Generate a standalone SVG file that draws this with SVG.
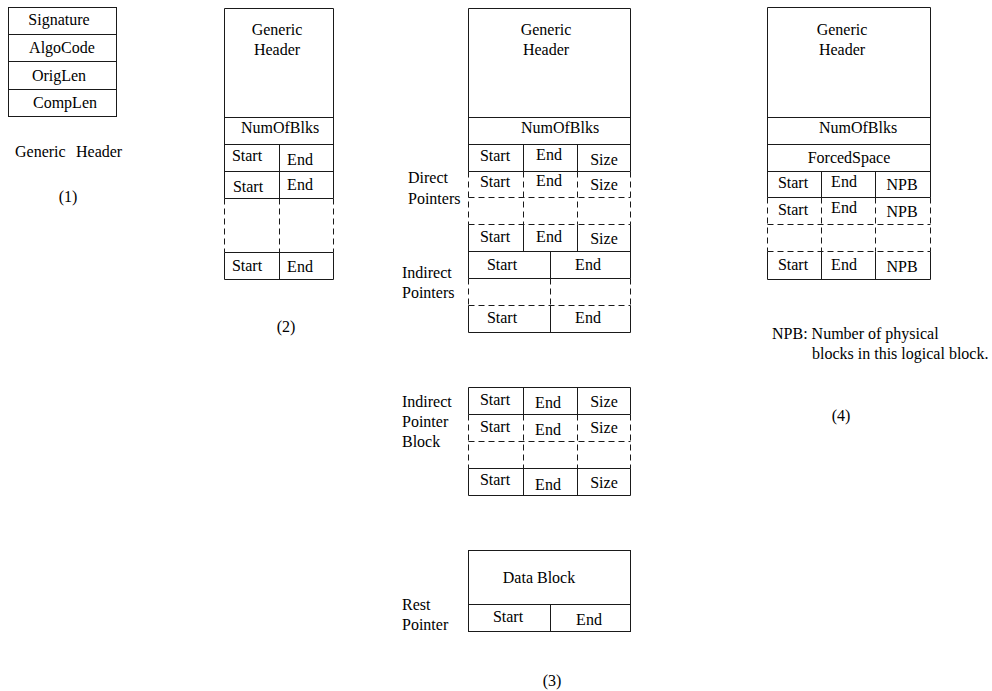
<svg xmlns="http://www.w3.org/2000/svg" width="992" height="691" viewBox="0 0 992 691">
<style>
text{font-family:"Liberation Serif","Times New Roman",serif;font-size:16px;fill:#000}
.c{text-anchor:middle}
.s{fill:none;stroke:#1a1a1a;stroke-width:1}
.d{fill:none;stroke:#1a1a1a;stroke-width:1;stroke-dasharray:6,4}
</style>
<rect width="992" height="691" fill="#fff"/>
<g id="connectors"/>
<g id="generic-header">
<rect class="s" x="8.5" y="7.5" width="108" height="109"/>
<path class="s" d="M8.5 34.5H116.5M8.5 61.5H116.5M8.5 89.5H116.5"/>
<text class="c" x="59" y="25">Signature</text>
<text class="c" x="62" y="53">AlgoCode</text>
<text class="c" x="59" y="81">OrigLen</text>
<text class="c" x="65" y="108">CompLen</text>
<text x="15" y="157">Generic</text>
<text x="76" y="157">Header</text>
<text class="c" x="68" y="202">(1)</text>
</g>
<g id="layout-2">
<path class="s" d="M224.5 198.5V8.5H333.5V198.5M224.5 117.5H333.5M224.5 144.5H333.5M224.5 171.5H333.5M224.5 198.5H333.5M279.5 144.5V198.5M224.5 252.5H333.5V279.5H224.5ZM279.5 252.5V279.5"/>
<path class="d" d="M224.5 198.5V252.5M333.5 198.5V252.5M279.5 198.5V252.5"/>
<text class="c" x="277" y="35">Generic</text>
<text class="c" x="277" y="55">Header</text>
<text class="c" x="280" y="133">NumOfBlks</text>
<text class="c" x="247" y="161">Start</text>
<text class="c" x="300" y="165">End</text>
<text class="c" x="248" y="192">Start</text>
<text class="c" x="300" y="190">End</text>
<text class="c" x="247" y="271">Start</text>
<text class="c" x="300" y="272">End</text>
<text class="c" x="286" y="332">(2)</text>
</g>
<g id="layout-3-main">
<path class="s" d="M468.5 171.5V8.5H630.5V171.5M468.5 117.5H630.5M468.5 144.5H630.5M468.5 171.5H630.5M523.5 144.5V171.5M577.5 144.5V171.5"/>
<path class="d" d="M468.5 171.5V224.5M630.5 171.5V224.5M523.5 171.5V224.5M577.5 171.5V224.5M468.5 197.5H630.5M468.5 224.5H630.5"/>
<path class="s" d="M468.5 224.5V278.5M630.5 224.5V278.5M523.5 224.5V251.5M577.5 224.5V251.5M468.5 251.5H630.5M468.5 278.5H630.5M550.5 251.5V278.5"/>
<path class="d" d="M468.5 278.5V305.5M630.5 278.5V305.5M550.5 278.5V305.5M468.5 305.5H630.5"/>
<path class="s" d="M468.5 305.5V332.5H630.5V305.5M550.5 305.5V332.5"/>
<text class="c" x="546" y="35">Generic</text>
<text class="c" x="546" y="55">Header</text>
<text class="c" x="560" y="133">NumOfBlks</text>
<text class="c" x="495" y="161">Start</text>
<text class="c" x="549" y="160">End</text>
<text class="c" x="604" y="165">Size</text>
<text class="c" x="495" y="187">Start</text>
<text class="c" x="549" y="186">End</text>
<text class="c" x="604" y="190">Size</text>
<text class="c" x="495" y="242">Start</text>
<text class="c" x="549" y="242">End</text>
<text class="c" x="604" y="244">Size</text>
<text class="c" x="502" y="270">Start</text>
<text class="c" x="588" y="270">End</text>
<text class="c" x="502" y="323">Start</text>
<text class="c" x="588" y="323">End</text>
<text x="408" y="183">Direct</text>
<text x="408" y="204">Pointers</text>
<text x="402" y="278">Indirect</text>
<text x="402" y="298">Pointers</text>
</g>
<g id="indirect-pointer-block">
<path class="s" d="M468.5 414.5V387.5H630.5V414.5M468.5 414.5H630.5M523.5 387.5V414.5M577.5 387.5V414.5"/>
<path class="d" d="M468.5 414.5V468.5M630.5 414.5V468.5M523.5 414.5V468.5M577.5 414.5V468.5M468.5 441.5H630.5"/>
<path class="s" d="M468.5 468.5H630.5V495.5H468.5ZM523.5 468.5V495.5M577.5 468.5V495.5"/>
<text class="c" x="495" y="405">Start</text>
<text class="c" x="548" y="408">End</text>
<text class="c" x="604" y="407">Size</text>
<text class="c" x="495" y="432">Start</text>
<text class="c" x="548" y="435">End</text>
<text class="c" x="604" y="433">Size</text>
<text class="c" x="495" y="485">Start</text>
<text class="c" x="548" y="490">End</text>
<text class="c" x="604" y="488">Size</text>
<text x="402" y="407">Indirect</text>
<text x="402" y="427">Pointer</text>
<text x="402" y="447">Block</text>
</g>
<g id="data-block">
<rect class="s" x="468.5" y="550.5" width="162" height="81"/>
<path class="s" d="M468.5 604.5H630.5M550.5 604.5V631.5"/>
<text class="c" x="539" y="583">Data Block</text>
<text class="c" x="508" y="622">Start</text>
<text class="c" x="589" y="625">End</text>
<text x="402" y="610">Rest</text>
<text x="402" y="630">Pointer</text>
<text class="c" x="552" y="686">(3)</text>
</g>
<g id="layout-4">
<path class="s" d="M767.5 197.5V7.5H930.5V197.5M767.5 117.5H930.5M767.5 144.5H930.5M767.5 171.5H930.5M767.5 197.5H930.5M821.5 171.5V197.5M875.5 171.5V197.5"/>
<path class="d" d="M767.5 197.5V251.5M930.5 197.5V251.5M821.5 197.5V251.5M875.5 197.5V251.5M767.5 224.5H930.5M767.5 251.5H930.5"/>
<path class="s" d="M767.5 251.5V279.5H930.5V251.5M821.5 251.5V279.5M875.5 251.5V279.5"/>
<text class="c" x="842" y="35">Generic</text>
<text class="c" x="842" y="55">Header</text>
<text class="c" x="858" y="133">NumOfBlks</text>
<text class="c" x="849" y="163">ForcedSpace</text>
<text class="c" x="793" y="188">Start</text>
<text class="c" x="844" y="187">End</text>
<text class="c" x="902" y="190">NPB</text>
<text class="c" x="793" y="215">Start</text>
<text class="c" x="844" y="213">End</text>
<text class="c" x="902" y="217">NPB</text>
<text class="c" x="793" y="270">Start</text>
<text class="c" x="844" y="270">End</text>
<text class="c" x="902" y="272">NPB</text>
<text x="772" y="339">NPB: Number of physical</text>
<text x="812" y="359">blocks in this logical block.</text>
<text class="c" x="841" y="421">(4)</text>
</g>
</svg>
